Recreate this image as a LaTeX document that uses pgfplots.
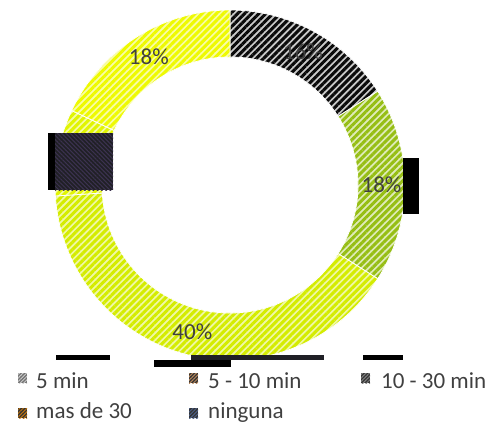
\documentclass[border=0pt]{standalone}
\usepackage{pgfplots}
\pgfplotsset{compat=1.18}
\usepackage{pgfplotstable}
\usepackage{fontspec}
\setmainfont{Carlito}
\usetikzlibrary{patterns.meta}

\definecolor{txt}{RGB}{64,64,64}
\definecolor{cA}{RGB}{10,10,10}
\definecolor{cB}{RGB}{150,190,20}
\definecolor{cC}{RGB}{212,236,0}
\definecolor{cD}{RGB}{225,245,0}
\definecolor{cE}{RGB}{238,250,0}
\definecolor{boxc}{RGB}{32,32,38}
\definecolor{boxp}{RGB}{60,50,80}

% percentages, clockwise from 12 o'clock
\pgfplotstableread{
label pct
{5 min} 16
{5 - 10 min} 18
{10 - 30 min} 40
{mas de 30} 8
ninguna 18
}\datatable
\pgfplotstablegetelem{0}{pct}\of\datatable\edef\pA{\pgfplotsretval}
\pgfplotstablegetelem{1}{pct}\of\datatable\edef\pB{\pgfplotsretval}
\pgfplotstablegetelem{2}{pct}\of\datatable\edef\pC{\pgfplotsretval}
\pgfplotstablegetelem{3}{pct}\of\datatable\edef\pD{\pgfplotsretval}
\pgfplotstablegetelem{4}{pct}\of\datatable\edef\pE{\pgfplotsretval}
\pgfmathsetmacro\sA{0}
\pgfmathsetmacro\sB{\sA+3.6*\pA}
\pgfmathsetmacro\sC{\sB+3.6*\pB}
\pgfmathsetmacro\sD{\sC+3.6*\pC}
\pgfmathsetmacro\sE{\sD+3.6*\pD}
\pgfmathsetmacro\sF{\sE+3.6*\pE}
\pgfmathsetmacro\mA{(\sA+\sB)/2}
\pgfmathsetmacro\mB{(\sB+\sC)/2}
\pgfmathsetmacro\mC{(\sC+\sD)/2}
\pgfmathsetmacro\mD{(\sD+\sE)/2}
\pgfmathsetmacro\mE{(\sE+\sF)/2}

\def\Rout{175pt}
\def\Rin{128pt}
\def\Rlab{151.5pt}
\newcommand\sector[3]{%
  \path[#3,draw=white,line width=0.8pt]
    ([shift={({90-(#1)}:\Rout)}]C) arc[start angle={90-(#1)}, end angle={90-(#2)}, radius=\Rout]
    -- ([shift={({90-(#2)}:\Rin)}]C) arc[start angle={90-(#2)}, end angle={90-(#1)}, radius=\Rin]
    -- cycle;}
\newcommand\seglabel[2]{%
  \node[text=txt,font=\fontsize{23}{27}\selectfont,inner sep=0pt] at ([shift={({90-(#1)}:\Rlab)}]C) {#2\%};}
\newcommand\legsw[4]{%
  \fill[#3] (axis cs:#1,#2) rectangle ([shift={(9pt,-10pt)}]axis cs:#1,#2);
  \path[pattern={Lines[angle=45,distance=2.5pt,line width=1pt]},pattern color=#4] (axis cs:#1,#2) rectangle ([shift={(9pt,-10pt)}]axis cs:#1,#2);}
\newcommand\legtx[3]{%
  \node[anchor=base west,inner sep=0pt,text=txt,font=\fontsize{23}{27}\selectfont] at (axis cs:#1,#2) {#3};}

\tikzset{
  pA/.style={preaction={fill=cA!22},pattern={Lines[angle=45,distance=5pt,line width=3pt]},pattern color=cA},
  pB/.style={preaction={fill=cB!30},pattern={Lines[angle=45,distance=5pt,line width=3pt]},pattern color=cB},
  pC/.style={preaction={fill=cC!35},pattern={Lines[angle=45,distance=5pt,line width=3pt]},pattern color=cC},
  pD/.style={preaction={fill=cD!35},pattern={Lines[angle=45,distance=5pt,line width=3pt]},pattern color=cD},
  pE/.style={preaction={fill=cE!35},pattern={Lines[angle=45,distance=5pt,line width=3pt]},pattern color=cE},
}

\begin{document}
\begin{tikzpicture}
\begin{axis}[at={(0,0)},anchor=south west,scale only axis,
  width=498pt,height=428pt,xmin=0,xmax=498,ymin=0,ymax=428,
  y dir=reverse,hide axis,clip=false]
\path (axis cs:0,0) rectangle (axis cs:498,428);
\coordinate (C) at (axis cs:230,185);
\sector{\sA}{\sB}{pA}
\sector{\sB}{\sC}{pB}
\sector{\sC}{\sD}{pC}
\sector{\sD}{\sE}{pD}
\sector{\sE}{\sF}{pE}
\seglabel{\mA}{\pA}
\seglabel{\mB}{\pB}
\seglabel{\mC}{\pC}
\seglabel{\mD}{\pD}
\seglabel{\mE}{\pE}
% rendering artefacts of the reference
\fill[boxc] (axis cs:48,133) rectangle (axis cs:113,190);
\path[pattern={Lines[angle=-45,distance=3pt,line width=1pt]},pattern color=boxp] (axis cs:55,133) rectangle (axis cs:113,190);
\fill[black] (axis cs:48,133) rectangle (axis cs:55,190);
\fill[black] (axis cs:403,158) rectangle (axis cs:419,214);
\fill[black] (axis cs:56,355) rectangle (axis cs:110,360);
\fill[boxc] (axis cs:191,355) rectangle (axis cs:324,360);
\fill[black] (axis cs:154,360) rectangle (axis cs:231,367);
\fill[black] (axis cs:363,355) rectangle (axis cs:403,360);
% legend
\legsw{18}{373}{black!55}{white!80!black}
\legsw{189}{373}{black!80}{cB!70!magenta}
\legsw{361}{373}{black!80}{black!50}
\legsw{18}{408}{black!80}{cB!60!red}
\legsw{189}{408}{black!80}{cB!50!blue}
\legtx{36}{388}{5 min}
\legtx{208}{388}{5 - 10 min}
\legtx{381}{388}{10 - 30 min}
\legtx{36}{418}{mas de 30}
\legtx{208}{418}{ninguna}
\end{axis}
\end{tikzpicture}
\end{document}
